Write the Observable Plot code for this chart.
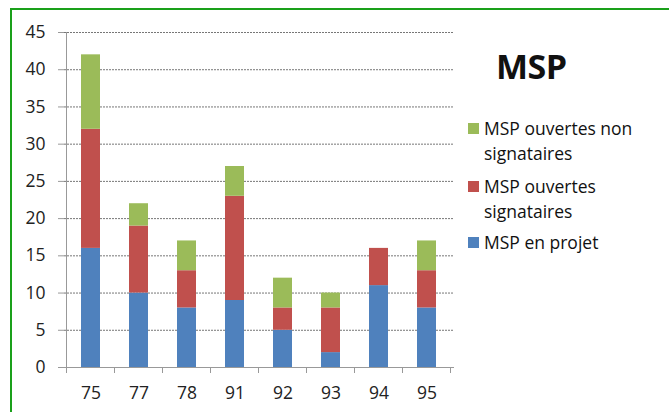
<!DOCTYPE html>
<html><head><meta charset="utf-8">
<script src="https://cdn.jsdelivr.net/npm/d3@7"></script>
<script src="https://cdn.jsdelivr.net/npm/@observablehq/plot@0.6"></script>
<style>
html,body{margin:0;padding:0;background:#fff;}
#wrap{position:relative;width:669px;height:412px;overflow:hidden;font-family:"Open Sans",sans-serif;}
#border{position:absolute;left:10px;top:8px;width:700px;height:450px;border:2px solid #1aa01a;box-sizing:border-box;}
#chart{position:absolute;left:0;top:0;}
#legend{position:absolute;left:466px;top:0;color:#111;font-size:17.5px;}
#legend .title{position:absolute;left:30px;top:43px;font-size:34px;font-weight:bold;white-space:nowrap;letter-spacing:-0.5px;}
#legend .item{position:absolute;left:0;width:200px;line-height:25px;}
#legend .sw{position:absolute;left:2px;top:7px;width:11px;height:11px;}
#legend .tx{position:absolute;left:18px;top:0;white-space:nowrap;}
</style></head>
<body><div id="wrap"><div id="border"></div><div id="chart"></div><div id="legend"></div></div>
<script>
const categories = ["75","77","78","91","92","93","94","95"];
const projet = [16,10,8,9,5,2,11,8];
const signataires = [16,9,5,14,3,6,5,5];
const nonSignataires = [10,3,4,4,4,2,0,4];
const seriesNames = ["MSP en projet","MSP ouvertes signataires","MSP ouvertes non signataires"];
const seriesColors = ["#4F81BD","#C0504D","#9BBB59"];
const yTicks = [0,5,10,15,20,25,30,35,40,45];

const seriesValues = [projet, signataires, nonSignataires];
const data = [];
seriesNames.forEach((s,i)=>categories.forEach((c,j)=>data.push({cat:c, series:s, value:seriesValues[i][j]})));

const plot = Plot.plot({
  width: 669, height: 412,
  marginLeft: 64, marginRight: 215, marginTop: 32, marginBottom: 45,
  style: {fontFamily: "'Open Sans', sans-serif", fontSize: "17.5px", color: "#222", background: "transparent"},
  x: {domain: categories, paddingInner: 0.6, paddingOuter: 0.3, label: null},
  y: {domain: [0,45], label: null},
  color: {domain: seriesNames, range: seriesColors},
  marks: [
    Plot.gridY(yTicks, {stroke: "#777", strokeOpacity: 1, strokeDasharray: "2,1"}),
    Plot.barY(data, Plot.stackY({order: seriesNames}, {x: "cat", y: "value", fill: "series"})),
    Plot.axisY(yTicks, {tickSize: 6, tickPadding: 13, stroke: "#999", fontSize: 17.5}),
    Plot.ruleY([0], {stroke: "#999"}),
    Plot.axisX({tickSize: 0, tickPadding: 19, fontSize: 17.5})
  ]
});
document.getElementById("chart").appendChild(plot);

// category boundary ticks on the x axis, computed from Plot's band scale
const xs = plot.scale("x"), ys = plot.scale("y");
const gap = (xs.step - xs.bandwidth)/2;
const bounds = categories.map(c => xs.apply(c) - gap);
bounds.push(xs.apply(categories[categories.length-1]) + xs.bandwidth + gap);
const y0 = ys.apply(0);
d3.select(plot).append("g").selectAll("line").data(bounds).join("line")
  .attr("x1", d=>d).attr("x2", d=>d).attr("y1", y0).attr("y2", y0+6)
  .attr("stroke", "#999");
// vertical axis line
d3.select(plot).append("line").attr("x1", bounds[0]).attr("x2", bounds[0])
  .attr("y1", ys.apply(45)).attr("y2", y0).attr("stroke", "#999");

// legend
const leg = document.getElementById("legend");
leg.innerHTML = '<div class="title">MSP</div>';
const items = [
  {lines: ["MSP ouvertes non","signataires"], color: seriesColors[2], top: 116},
  {lines: ["MSP ouvertes","signataires"], color: seriesColors[1], top: 174},
  {lines: ["MSP en projet"], color: seriesColors[0], top: 230}
];
items.forEach(it=>{
  const d = document.createElement("div");
  d.className = "item"; d.style.top = it.top + "px";
  d.innerHTML = `<div class="sw" style="background:${it.color}"></div><div class="tx">${it.lines.join("<br>")}</div>`;
  leg.appendChild(d);
});
</script></body></html>
